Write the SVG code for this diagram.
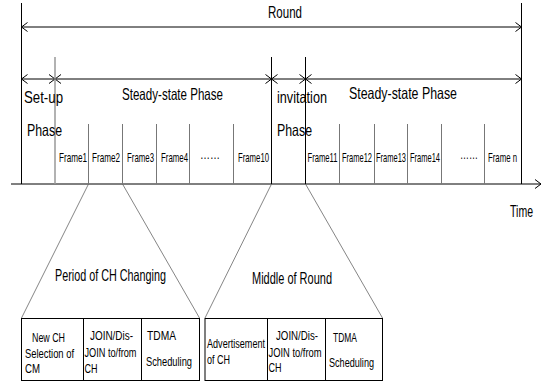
<svg xmlns="http://www.w3.org/2000/svg" width="545" height="381" viewBox="0 0 545 381">
<defs>
<style>
text{font-family:"Liberation Sans Narrow","Liberation Sans",Arial,sans-serif;fill:#000}
.big{font-size:16.5px}
.fr{font-size:9px}
.bx{font-size:11px}
.ln{stroke:#000;stroke-width:1;fill:none}
.gl{stroke:#777;stroke-width:1;fill:none}
.gl2{stroke:#999;stroke-width:1.5;fill:none}
.sl{stroke:#666;stroke-width:0.8;fill:none}
</style>
<marker id="ah" viewBox="-7 -5 8 10" markerWidth="8" markerHeight="10" refX="0" refY="0" orient="auto-start-reverse" markerUnits="userSpaceOnUse">
<path d="M-6,-4.5 L0,0 L-6,4.5" fill="none" stroke="#000" stroke-width="1"/>
</marker>
</defs>
<rect width="545" height="381" fill="#fff"/>

<g id="connectors">
<line class="ln" x1="11" y1="184" x2="541" y2="184" marker-end="url(#ah)"/>
<line class="ln" x1="21.5" y1="27" x2="521.5" y2="27" marker-start="url(#ah)" marker-end="url(#ah)"/>
<line class="ln" x1="21.5" y1="79" x2="55" y2="79" marker-start="url(#ah)" marker-end="url(#ah)"/>
<line class="ln" x1="55" y1="79" x2="271.5" y2="79" marker-start="url(#ah)" marker-end="url(#ah)"/>
<line class="ln" x1="271.5" y1="79" x2="305.5" y2="79" marker-start="url(#ah)" marker-end="url(#ah)"/>
<line class="ln" x1="305.5" y1="79" x2="521.5" y2="79" marker-start="url(#ah)" marker-end="url(#ah)"/>
<line class="sl" x1="88.5" y1="184" x2="21.5" y2="318"/>
<line class="sl" x1="122.5" y1="184" x2="199.5" y2="318"/>
<line class="sl" x1="271.5" y1="184" x2="205" y2="318"/>
<line class="sl" x1="305.5" y1="184" x2="382.5" y2="318"/>
</g>

<g id="boundaries">
<line class="ln" x1="21.5" y1="3" x2="21.5" y2="184"/>
<line class="ln" x1="521.5" y1="3" x2="521.5" y2="184"/>
<line class="gl2" x1="55" y1="57" x2="55" y2="184"/>
<line class="ln" x1="271.5" y1="57" x2="271.5" y2="184"/>
<line class="ln" x1="305.5" y1="57" x2="305.5" y2="184"/>
</g>

<g id="frame-lines">
<line class="gl" x1="88.5" y1="124" x2="88.5" y2="184"/>
<line class="gl" x1="122.5" y1="124" x2="122.5" y2="184"/>
<line class="gl" x1="156.5" y1="124" x2="156.5" y2="184"/>
<line class="gl" x1="189.5" y1="124" x2="189.5" y2="184"/>
<line class="gl" x1="233.5" y1="124" x2="233.5" y2="184"/>
<line class="gl" x1="339.5" y1="124" x2="339.5" y2="184"/>
<line class="gl" x1="374.5" y1="124" x2="374.5" y2="184"/>
<line class="gl" x1="407.5" y1="124" x2="407.5" y2="184"/>
<line class="gl" x1="441.5" y1="124" x2="441.5" y2="184"/>
<line class="gl" x1="484.5" y1="124" x2="484.5" y2="184"/>
</g>

<g id="round-label"><text class="big" x="268" y="18" textLength="34" lengthAdjust="spacingAndGlyphs">Round</text></g>
<g id="setup-phase">
<text class="big" x="24" y="103" textLength="39" lengthAdjust="spacingAndGlyphs">Set-up</text>
<text class="big" x="27" y="136" textLength="35" lengthAdjust="spacingAndGlyphs">Phase</text>
</g>
<g id="steady-state-1"><text class="big" x="122" y="100" textLength="101" lengthAdjust="spacingAndGlyphs">Steady-state Phase</text></g>
<g id="invitation-phase">
<text class="big" x="277" y="103" textLength="50" lengthAdjust="spacingAndGlyphs">invitation</text>
<text class="big" x="277" y="136" textLength="35" lengthAdjust="spacingAndGlyphs">Phase</text>
</g>
<g id="steady-state-2"><text class="big" x="349" y="99" textLength="108" lengthAdjust="spacingAndGlyphs">Steady-state Phase</text></g>
<g id="time-label"><text class="big" x="510" y="217" textLength="23" lengthAdjust="spacingAndGlyphs">Time</text></g>

<g id="frames">
<text class="fr" transform="translate(59,162) scale(1,1.33)" textLength="28" lengthAdjust="spacingAndGlyphs">Frame1</text>
<text class="fr" transform="translate(92,162) scale(1,1.33)" textLength="28" lengthAdjust="spacingAndGlyphs">Frame2</text>
<text class="fr" transform="translate(127,162) scale(1,1.33)" textLength="27" lengthAdjust="spacingAndGlyphs">Frame3</text>
<text class="fr" transform="translate(161,162) scale(1,1.33)" textLength="27" lengthAdjust="spacingAndGlyphs">Frame4</text>
<text class="fr" transform="translate(200,159) scale(1,1.33)" textLength="20" lengthAdjust="spacingAndGlyphs">……</text>
<text class="fr" transform="translate(238,162) scale(1,1.33)" textLength="31" lengthAdjust="spacingAndGlyphs">Frame10</text>
<text class="fr" transform="translate(307.5,162) scale(1,1.33)" textLength="30" lengthAdjust="spacingAndGlyphs">Frame11</text>
<text class="fr" transform="translate(342,162) scale(1,1.33)" textLength="30" lengthAdjust="spacingAndGlyphs">Frame12</text>
<text class="fr" transform="translate(376,162) scale(1,1.33)" textLength="30" lengthAdjust="spacingAndGlyphs">Frame13</text>
<text class="fr" transform="translate(410,162) scale(1,1.33)" textLength="30" lengthAdjust="spacingAndGlyphs">Frame14</text>
<text class="fr" transform="translate(460,159) scale(1,1.33)" textLength="18" lengthAdjust="spacingAndGlyphs">……</text>
<text class="fr" transform="translate(488,162) scale(1,1.33)" textLength="29" lengthAdjust="spacingAndGlyphs">Frame n</text>
</g>

<g id="period-of-ch-changing">
<text class="big" x="55" y="281" textLength="111" lengthAdjust="spacingAndGlyphs">Period of CH Changing</text>
<rect class="ln" x="21.5" y="318.5" width="178" height="62"/>
<line class="ln" x1="83.5" y1="318.5" x2="83.5" y2="381"/>
<line class="ln" x1="141.5" y1="318.5" x2="141.5" y2="381"/>
<text class="bx" transform="translate(32,342) scale(1,1.2)" textLength="33" lengthAdjust="spacingAndGlyphs">New CH</text>
<text class="bx" transform="translate(25,357.5) scale(1,1.2)" textLength="49" lengthAdjust="spacingAndGlyphs">Selection of</text>
<text class="bx" transform="translate(25,373) scale(1,1.2)" textLength="15" lengthAdjust="spacingAndGlyphs">CM</text>
<text class="bx" transform="translate(90,340) scale(1,1.2)" textLength="43" lengthAdjust="spacingAndGlyphs">JOIN/Dis-</text>
<text class="bx" transform="translate(84.5,356.5) scale(1,1.2)" textLength="52" lengthAdjust="spacingAndGlyphs">JOIN to/from</text>
<text class="bx" transform="translate(84.5,373) scale(1,1.2)" textLength="13" lengthAdjust="spacingAndGlyphs">CH</text>
<text class="bx" transform="translate(147,340) scale(1,1.2)" textLength="29" lengthAdjust="spacingAndGlyphs">TDMA</text>
<text class="bx" transform="translate(146,366) scale(1,1.2)" textLength="46" lengthAdjust="spacingAndGlyphs">Scheduling</text>
</g>

<g id="middle-of-round">
<text class="big" x="252" y="284" textLength="80" lengthAdjust="spacingAndGlyphs">Middle of Round</text>
<rect class="ln" x="205" y="318.5" width="177.5" height="62"/>
<line class="ln" x1="267.5" y1="318.5" x2="267.5" y2="381"/>
<line class="ln" x1="325.5" y1="318.5" x2="325.5" y2="381"/>
<text class="bx" transform="translate(207,348) scale(1,1.2)" textLength="58" lengthAdjust="spacingAndGlyphs">Advertisement</text>
<text class="bx" transform="translate(207,363.5) scale(1,1.2)" textLength="23" lengthAdjust="spacingAndGlyphs">of CH</text>
<text class="bx" transform="translate(276,340) scale(1,1.2)" textLength="42" lengthAdjust="spacingAndGlyphs">JOIN/Dis-</text>
<text class="bx" transform="translate(268.5,356.5) scale(1,1.2)" textLength="53" lengthAdjust="spacingAndGlyphs">JOIN to/from</text>
<text class="bx" transform="translate(268.5,372) scale(1,1.2)" textLength="13" lengthAdjust="spacingAndGlyphs">CH</text>
<text class="bx" transform="translate(333,342) scale(1,1.2)" textLength="24" lengthAdjust="spacingAndGlyphs">TDMA</text>
<text class="bx" transform="translate(329,367) scale(1,1.2)" textLength="45" lengthAdjust="spacingAndGlyphs">Scheduling</text>
</g>
</svg>
